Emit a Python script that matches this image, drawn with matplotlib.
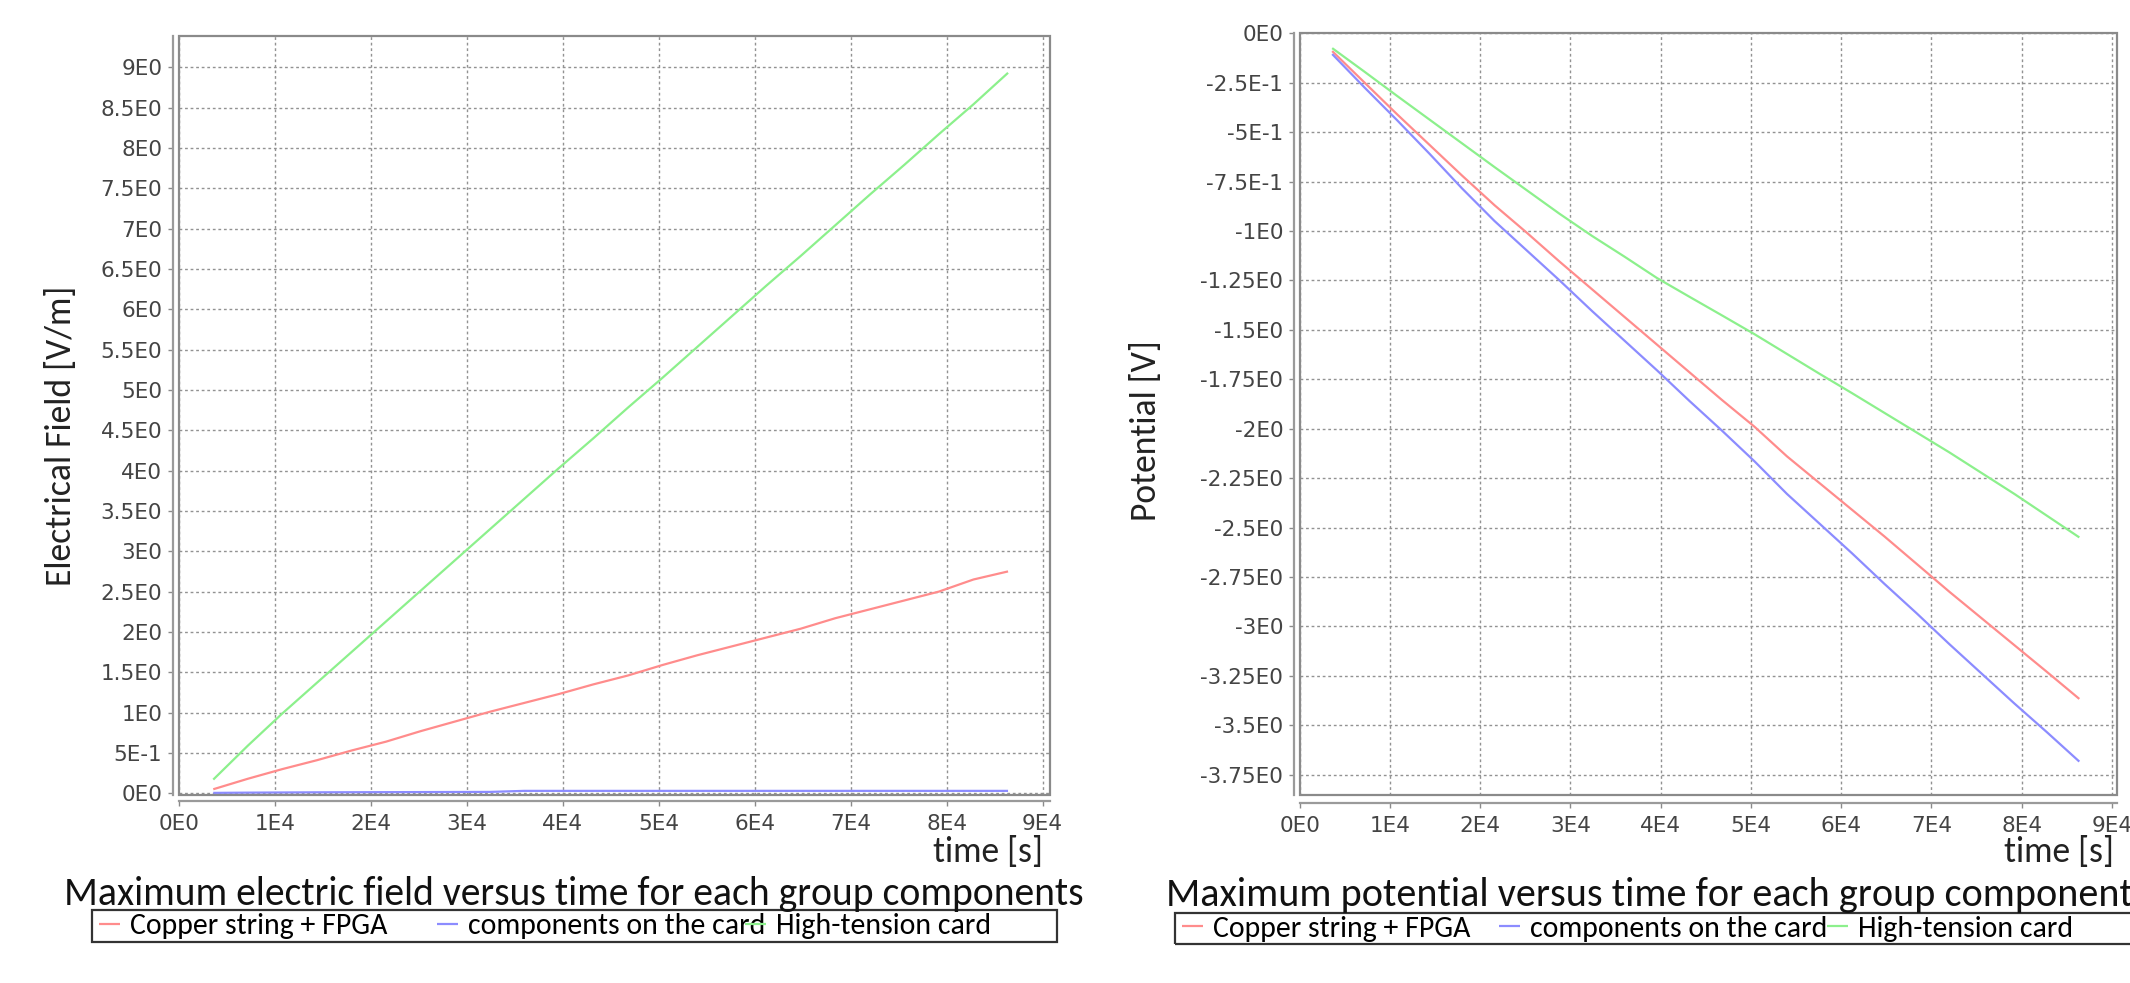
import numpy as np
import matplotlib.pyplot as plt
from matplotlib import font_manager
from matplotlib.patches import Rectangle
from matplotlib.ticker import MultipleLocator, FuncFormatter

# data (one point per hour, time in seconds)
time_s = [3600, 7200, 10800, 14400, 18000, 21600, 25200, 28800, 32400, 36000,
          39600, 43200, 46800, 50400, 54000, 57600, 61200, 64800, 68400, 72000,
          75600, 79200, 82800, 86400]
series_names = ['Copper string + FPGA', 'components on the card', 'High-tension card']

# maximum electric field [V/m]
field_copper = [0.05, 0.18, 0.30, 0.41, 0.53, 0.64, 0.77, 0.89, 1.01, 1.12,
                1.23, 1.35, 1.46, 1.59, 1.71, 1.82, 1.93, 2.04, 2.17, 2.28,
                2.39, 2.50, 2.65, 2.75]
field_comp = [0.005, 0.008, 0.010, 0.012, 0.013, 0.014, 0.015, 0.016, 0.017, 0.030,
              0.030, 0.030, 0.030, 0.030, 0.030, 0.030, 0.030, 0.030, 0.030, 0.030,
              0.030, 0.030, 0.030, 0.030]
field_ht = [0.17, 0.59, 0.99, 1.37, 1.75, 2.13, 2.51, 2.89, 3.27, 3.65,
            4.03, 4.40, 4.78, 5.15, 5.53, 5.91, 6.29, 6.66, 7.04, 7.42,
            7.79, 8.17, 8.54, 8.93]

# maximum potential [V]
pot_copper = [-0.09, -0.25, -0.41, -0.565, -0.72, -0.87, -1.01, -1.155, -1.295, -1.435,
              -1.575, -1.715, -1.855, -1.99, -2.14, -2.275, -2.41, -2.545, -2.685, -2.825,
              -2.96, -3.095, -3.23, -3.367]
pot_comp = [-0.105, -0.275, -0.44, -0.61, -0.785, -0.95, -1.10, -1.25, -1.405, -1.555,
            -1.705, -1.86, -2.01, -2.165, -2.33, -2.48, -2.63, -2.785, -2.935, -3.09,
            -3.24, -3.39, -3.535, -3.684]
pot_ht = [-0.075, -0.195, -0.317, -0.437, -0.557, -0.677, -0.795, -0.913, -1.025, -1.13,
          -1.238, -1.333, -1.427, -1.522, -1.622, -1.722, -1.82, -1.92, -2.02, -2.12,
          -2.225, -2.33, -2.44, -2.55]

colors = ['#ff8c8c', '#8c8cff', '#8cf08c']

W, H = 2130, 983


def pick_font(names):
    avail = {f.name for f in font_manager.fontManager.ttflist}
    for n in names:
        if n in avail:
            return n
    return 'DejaVu Sans'


text_font = pick_font(['Carlito', 'Liberation Sans Narrow', 'Open Sans'])


def sci(v, pos):
    if abs(v) < 1e-9:
        return '0E0'
    e = int(np.floor(np.log10(abs(v)) + 1e-9))
    m = ('%.3f' % (v / 10 ** e)).rstrip('0').rstrip('.')
    return '%sE%d' % (m, e)


def style_axes(ax, ystep, bottom_off):
    for s in ax.spines.values():
        s.set_visible(False)
    ax.add_patch(Rectangle((0, 0), 1, 1, transform=ax.transAxes, fill=False,
                           edgecolor='#8a8a8a', lw=1.6, clip_on=False, zorder=5))
    for side, off in (('left', 4.4), ('bottom', bottom_off)):
        sp = ax.spines[side]
        sp.set_visible(True)
        sp.set_position(('outward', off))
        sp.set_color('#9a9a9a')
        sp.set_linewidth(1.6)
    ax.xaxis.set_major_locator(MultipleLocator(10000))
    ax.yaxis.set_major_locator(MultipleLocator(ystep))
    ax.xaxis.set_major_formatter(FuncFormatter(sci))
    ax.yaxis.set_major_formatter(FuncFormatter(sci))
    ax.tick_params(direction='out', length=3.5, width=1, color='#8a8a8a',
                   labelsize=15.5, labelcolor='#444444')
    ax.tick_params(axis='x', pad=6)
    ax.tick_params(axis='y', pad=4)
    ax.grid(True, color='#929292', linestyle=(0, (2, 2)), lw=1.0)
    ax.set_axisbelow(True)


fig = plt.figure(figsize=(W / 100, H / 100), dpi=100)
ax1 = fig.add_axes([178.7 / W, 1 - 794.5 / H, (1050 - 178.7) / W, (794.5 - 35.7) / H])
ax2 = fig.add_axes([1299.7 / W, 1 - 795 / H, (2117 - 1299.7) / W, (795 - 33.3) / H])

lines1 = []
for vals, c in zip([field_copper, field_comp, field_ht], colors):
    ln, = ax1.plot(time_s, vals, color=c, lw=1.6, solid_capstyle='butt')
    lines1.append(ln)
lines2 = []
for vals, c in zip([pot_copper, pot_comp, pot_ht], colors):
    ln, = ax2.plot(time_s, vals, color=c, lw=1.6, solid_capstyle='butt')
    lines2.append(ln)

style_axes(ax1, 0.5, 4.7)
style_axes(ax2, 0.25, 5.8)
ax1.set_xlim(0, 90770)
ax1.set_ylim(-0.015, 9.39)
ax2.set_xlim(0, 90575)
ax2.set_ylim(-3.853, 0)

label_kw = dict(family=text_font, fontsize=25.7, color='#222222')
ax1.set_ylabel('Electrical Field [V/m]', **label_kw)
ax1.yaxis.set_label_coords(-0.1167, 0.4725)
ax2.set_ylabel('Potential [V]', **label_kw)
ax2.yaxis.set_label_coords(-0.1685, 0.478)
ax1.set_xlabel('time [s]', ha='right', va='center', **label_kw)
ax1.xaxis.set_label_coords(0.992, -0.0758)
ax2.set_xlabel('time [s]', ha='right', va='center', **label_kw)
ax2.xaxis.set_label_coords(0.9963, -0.0748)

fig.text(574 / W, 1 - 894 / H, 'Maximum electric field versus time for each group components',
         ha='center', va='center', family=text_font, fontsize=28.5, color='#111111')
fig.text(1166 / W, 1 - 895 / H, 'Maximum potential versus time for each group components',
         ha='left', va='center', family=text_font, fontsize=28.9, color='#111111')

# legend boxes with one entry per series
fig.add_artist(Rectangle((92 / W, 1 - 942 / H), (1057 - 92) / W, 32 / H,
                         transform=fig.transFigure, fill=False, ec='#333333', lw=1.6))
fig.add_artist(Rectangle((1175 / W, 1 - 944 / H), (2200 - 1175) / W, 31 / H,
                         transform=fig.transFigure, fill=False, ec='#333333', lw=1.6))

for lines, xs, yc in ((lines1, [99, 437, 745], 926), (lines2, [1182, 1499, 1827], 928.5)):
    for ln, name, x in zip(lines, series_names, xs):
        fig.legend([ln], [name], loc='center left', bbox_to_anchor=(x / W, 1 - yc / H),
                   frameon=False, borderpad=0, borderaxespad=0, handlelength=0.7,
                   handletextpad=0.35, prop={'family': text_font, 'size': 21.5})

fig.savefig('out.png', dpi=100)
